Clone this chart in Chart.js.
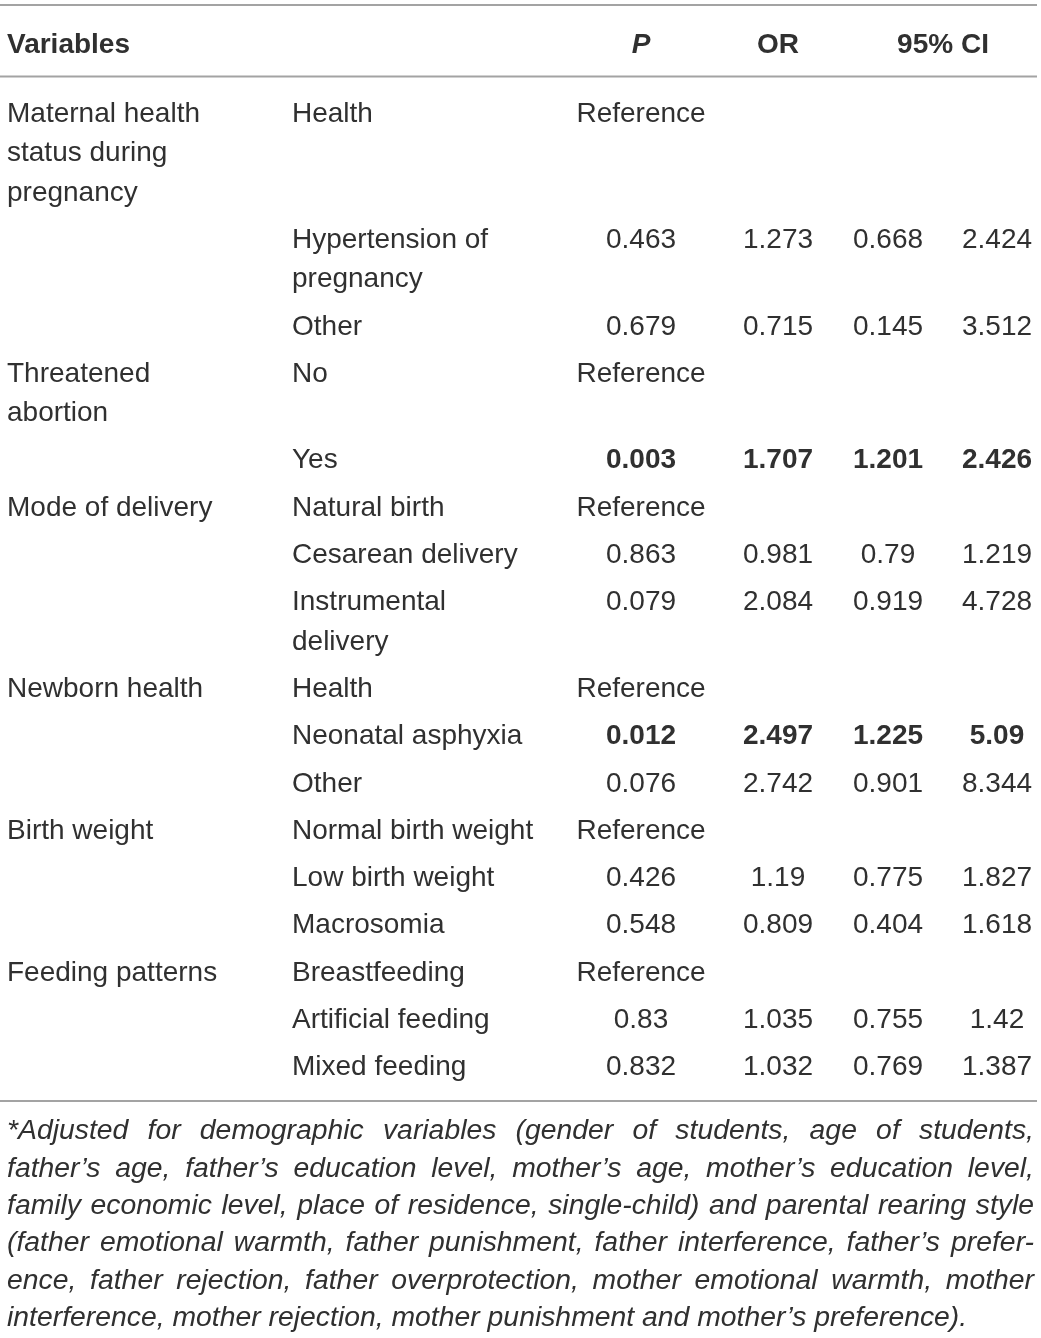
<!DOCTYPE html>
<html>
<head>
<meta charset="utf-8">
<script src="https://cdn.jsdelivr.net/npm/chart.js@4.4.1/dist/chart.umd.min.js"></script>
<style>
html, body { margin: 0; padding: 0; background: #fff; }
#wrap { width: 1041px; height: 1338px; }
</style>
</head>
<body>
<div id="wrap"><canvas id="tbl"></canvas></div>
<script>
// table content
const headers = ['Variables', 'P', 'OR', '95% CI']
const groups = ['Maternal health\nstatus during\npregnancy', '', '', 'Threatened\nabortion', '', 'Mode of delivery', '', '',
  'Newborn health', '', '', 'Birth weight', '', '', 'Feeding patterns', '', '']
const levels = ['Health', 'Hypertension of\npregnancy', 'Other', 'No', 'Yes', 'Natural birth', 'Cesarean delivery',
  'Instrumental\ndelivery', 'Health', 'Neonatal asphyxia', 'Other', 'Normal birth weight', 'Low birth weight',
  'Macrosomia', 'Breastfeeding', 'Artificial feeding', 'Mixed feeding']
const pValues = ['Reference', '0.463', '0.679', 'Reference', '0.003', 'Reference', '0.863', '0.079', 'Reference',
  '0.012', '0.076', 'Reference', '0.426', '0.548', 'Reference', '0.83', '0.832']
const orValues = [null, 1.273, 0.715, null, 1.707, null, 0.981, 2.084, null, 2.497, 2.742, null, 1.19, 0.809, null, 1.035, 1.032]
const ciLow = [null, 0.668, 0.145, null, 1.201, null, 0.79, 0.919, null, 1.225, 0.901, null, 0.775, 0.404, null, 0.755, 0.769]
const ciHigh = [null, 2.424, 3.512, null, 2.426, null, 1.219, 4.728, null, 5.09, 8.344, null, 1.827, 1.618, null, 1.42, 1.387]
const significant = [false, false, false, false, true, false, false, false, false, true, false, false, false, false, false, false, false]
const footnote = [
  '*Adjusted for demographic variables (gender of students, age of students,',
  'father\u2019s age, father\u2019s education level, mother\u2019s age, mother\u2019s education level,',
  'family economic level, place of residence, single-child) and parental rearing style',
  '(father emotional warmth, father punishment, father interference, father\u2019s prefer-',
  'ence, father rejection, father overprotection, mother emotional warmth, mother',
  'interference, mother rejection, mother punishment and mother\u2019s preference).'
]

// layout (page pixels)
const W = 1041, H = 1338
const colX = { group: 7, level: 292, p: 641, or: 778, lo: 888, hi: 997, ci: 943 }
const headerY = 43
const firstRowY = 112
const rowStep = 47.3
const lineStep = 39.3
const rules = [5, 76.5, 1101]
const noteTop = 1130, noteStep = 37.4, noteLeft = 7, noteRight = 1034
const noteSize = 27, noteStretch = 1.05
const FONT = '"Liberation Sans", Arial, sans-serif'
const INK = '#303030'

// row centres from the number of text lines in each row
const rowY = []
let yy = firstRowY
levels.forEach((lv, i) => {
  rowY.push(yy)
  const lines = Math.max(groups[i].split('\n').length, lv.split('\n').length)
  yy += rowStep + (lines - 1) * lineStep
})

function column(values, x, align, boldFn) {
  const pts = []
  values.forEach((v, i) => {
    if (v === null || v === '') return
    pts.push({ x: x, y: rowY[i], text: String(v), bold: boldFn ? boldFn(i) : false })
  })
  return { data: pts, align: align, pointRadius: 0 }
}

const datasets = [
  { data: [{ x: colX.group, y: headerY, text: headers[0], bold: true },
           { x: colX.p, y: headerY, text: headers[1], bold: true, italic: true },
           { x: colX.or, y: headerY, text: headers[2], bold: true },
           { x: colX.ci, y: headerY, text: headers[3], bold: true }],
    alignFn: (i) => i === 0 ? 'left' : 'center', pointRadius: 0 },
  column(groups, colX.group, 'left'),
  column(levels, colX.level, 'left'),
  column(pValues, colX.p, 'center', i => significant[i]),
  column(orValues, colX.or, 'center', i => significant[i]),
  column(ciLow, colX.lo, 'center', i => significant[i]),
  column(ciHigh, colX.hi, 'center', i => significant[i])
]

function drawWords(ctx, text, x0, x1, y, justify) {
  const words = text.split(' ')
  const widths = words.map(w => ctx.measureText(w).width * noteStretch)
  const total = widths.reduce((a, b) => a + b, 0)
  const space = ctx.measureText(' ').width * noteStretch
  const minGap = space * 0.7
  let sx = noteStretch, gap = space
  const n = words.length
  if (justify) {
    gap = (x1 - x0 - total) / (n - 1)
    if (gap < minGap) { gap = minGap; sx = noteStretch * (x1 - x0 - minGap * (n - 1)) / total }
  } else if (total + space * (n - 1) > x1 - x0) {
    sx = noteStretch * (x1 - x0 - space * (n - 1)) / total
  }
  let x = x0
  words.forEach((w, i) => {
    ctx.save()
    ctx.translate(x, y)
    ctx.scale(sx, 1)
    ctx.fillText(w, 0, 0)
    ctx.restore()
    x += widths[i] * sx / noteStretch + gap
  })
}

const tablePlugin = {
  id: 'tablePlugin',
  afterDatasetsDraw(chart) {
    const ctx = chart.ctx
    const xs = chart.scales.x, ys = chart.scales.y
    ctx.save()
    // rules
    ctx.strokeStyle = '#a3a3a3'
    ctx.lineWidth = 2
    rules.forEach(r => {
      const py = ys.getPixelForValue(r)
      ctx.beginPath()
      ctx.moveTo(xs.getPixelForValue(0), py)
      ctx.lineTo(xs.getPixelForValue(W - 4), py)
      ctx.stroke()
    })
    // cells
    ctx.fillStyle = INK
    ctx.textBaseline = 'alphabetic'
    chart.data.datasets.forEach((ds, d) => {
      const meta = chart.getDatasetMeta(d)
      meta.data.forEach((pt, i) => {
        const raw = ds.data[i]
        const size = 28
        ctx.font = (raw.italic ? 'italic ' : '') + (raw.bold ? 'bold ' : '') + size + 'px ' + FONT
        ctx.textAlign = ds.alignFn ? ds.alignFn(i) : ds.align
        raw.text.split('\n').forEach((line, k) => {
          ctx.fillText(line, pt.x, pt.y + size * 0.358 + k * lineStep)
        })
      })
    })
    // footnote
    ctx.font = 'italic ' + noteSize + 'px ' + FONT
    ctx.textAlign = 'left'
    footnote.forEach((line, k) => {
      const py = ys.getPixelForValue(noteTop + k * noteStep) + noteSize * 0.34
      drawWords(ctx, line, xs.getPixelForValue(noteLeft), xs.getPixelForValue(noteRight), py, k < footnote.length - 1)
    })
    ctx.restore()
  }
}

new Chart(document.getElementById('tbl'), {
  type: 'scatter',
  data: { datasets: datasets },
  options: {
    responsive: true,
    maintainAspectRatio: false,
    animation: false,
    events: [],
    layout: { padding: 0 },
    plugins: { legend: { display: false }, tooltip: { enabled: false } },
    scales: {
      x: { type: 'linear', display: false, min: 0, max: W },
      y: { type: 'linear', display: false, min: 0, max: H, reverse: true }
    }
  },
  plugins: [tablePlugin]
})
</script>
</body>
</html>
